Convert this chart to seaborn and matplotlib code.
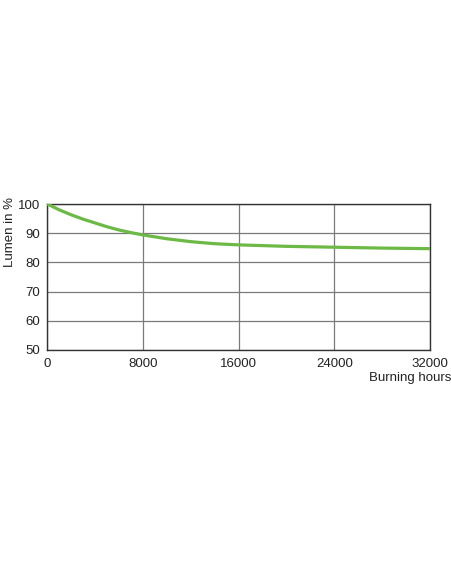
import matplotlib
matplotlib.use("Agg")
import matplotlib.pyplot as plt
import seaborn as sns
import pandas as pd

hours = [0, 1000, 2000, 3000, 4000, 5000, 6000, 7000, 8000, 10000, 12000, 14000,
         16000, 20000, 24000, 28000, 32000]
lumen = [100.0, 98.0, 96.3, 94.8, 93.5, 92.2, 91.1, 90.2, 89.4, 88.1, 87.1, 86.4,
         86.0, 85.5, 85.2, 84.9, 84.7]
x_ticks = [0, 8000, 16000, 24000, 32000]
y_ticks = [50, 60, 70, 80, 90, 100]

sns.set_theme(style="white")
plt.rcParams['font.family'] = ['Liberation Sans', 'DejaVu Sans']

df = pd.DataFrame({"hours": hours, "lumen": lumen})

fig = plt.figure(figsize=(4.52, 5.84), dpi=100)
ax = fig.add_axes([47.3 / 452, (584 - 350) / 584, (430 - 47.3) / 452, 146 / 584])

sns.lineplot(data=df, x="hours", y="lumen", ax=ax, color="#6cb946", linewidth=2.3,
             zorder=3)

ax.set_xlim(0, 32000)
ax.set_ylim(50, 100)
ax.set_xticks(x_ticks)
ax.set_yticks(y_ticks)
ax.set_xticklabels([str(t) for t in x_ticks])
ax.set_yticklabels([str(t) for t in y_ticks])
ax.grid(True, color="#7a7a7a", linewidth=0.9)
ax.set_axisbelow(True)
for s in ax.spines.values():
    s.set_color("#333333")
    s.set_linewidth(1.0)
ax.tick_params(axis="both", length=0, labelsize=9.5, colors="#222222")
ax.tick_params(axis="y", pad=5)
ax.tick_params(axis="x", pad=6)
ax.set_xlabel("")
ax.set_ylabel("")

fig.text(452 / 452 - 0.002, 1 - 378 / 584, "Burning hours", ha="right", va="center",
         fontsize=9.5, color="#222222")
fig.text(10 / 452, 1 - 197 / 584, "Lumen in %", ha="center", va="top", rotation=90,
         fontsize=9.5, color="#222222")

fig.savefig("out.png", dpi=100)
